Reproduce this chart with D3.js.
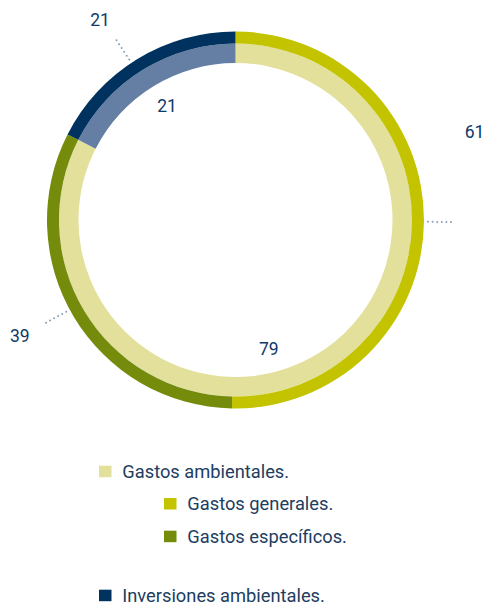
<!DOCTYPE html>
<html>
<head>
<meta charset="utf-8">
<script src="https://cdn.jsdelivr.net/npm/d3@7"></script>
<style>
  body { margin: 0; background: #fff; }
  svg { display: block; font-family: Roboto, "Liberation Sans", sans-serif; }
</style>
</head>
<body>
<div id="chart"></div>
<script>
// values printed on the chart
const innerNames = ['Gastos ambientales', 'Inversiones ambientales'];
const innerValues = [79, 21];
const outerNames = ['Gastos generales', 'Gastos específicos', 'Inversiones ambientales'];
const outerValues = [61, 39, 21];
// arc shares as drawn in the picture (percent of the circle)
const innerShares = [82.5, 17.5];
const outerShares = [50.3, 32.2, 17.5];
const legendLabels = ['Gastos ambientales.', 'Gastos generales.', 'Gastos específicos.', 'Inversiones ambientales.'];

const W = 486, H = 606;
const cx = 235.5, cy = 220;
const rOuter = 188.5, rMid = 176.5, rInner = 157;

const innerColors = ['#e2e09b', '#647fa3'];
const outerColors = ['#c4c300', '#758b0c', '#00325f'];
const labelColor = '#0f3a66';
const dotColor = '#86a0b8';

const svg = d3.select('#chart').append('svg')
  .attr('width', W)
  .attr('height', H);

const g = svg.append('g').attr('transform', `translate(${cx},${cy})`);

const pie = d3.pie().sort(null).value(d => d);

const innerArcs = pie(innerShares);
const outerArcs = pie(outerShares);

const innerArc = d3.arc().innerRadius(rInner).outerRadius(rMid);
const outerArc = d3.arc().innerRadius(rMid).outerRadius(rOuter);

g.selectAll('.inner')
  .data(innerArcs)
  .enter()
  .append('path')
  .attr('class', 'inner')
  .attr('d', innerArc)
  .attr('fill', (d, i) => innerColors[i]);

g.selectAll('.outer')
  .data(outerArcs)
  .enter()
  .append('path')
  .attr('class', 'outer')
  .attr('d', outerArc)
  .attr('fill', (d, i) => outerColors[i]);

// dotted leaders for the outer ring (small angle nudges, degrees)
const polar = (a, r) => [Math.sin(a) * r, -Math.cos(a) * r];
const leaderShift = [0, 2.5, -2];
const leaderAngle = (d, i) => (d.startAngle + d.endAngle) / 2 + leaderShift[i] * Math.PI / 180;
const r1 = rOuter + 4, r2 = rOuter + 29;

g.selectAll('.leader')
  .data(outerArcs)
  .enter()
  .append('line')
  .attr('class', 'leader')
  .attr('x1', (d, i) => polar(leaderAngle(d, i), r1)[0])
  .attr('y1', (d, i) => polar(leaderAngle(d, i), r1)[1])
  .attr('x2', (d, i) => polar(leaderAngle(d, i), r2)[0])
  .attr('y2', (d, i) => polar(leaderAngle(d, i), r2)[1])
  .attr('stroke', dotColor)
  .attr('stroke-width', 2)
  .attr('stroke-linecap', 'round')
  .attr('stroke-dasharray', '0 4.6');

// outer labels: offsets from the leader end
const outerLabelOffset = [[21.5, -90], [-24.5, 12.4], [-15.4, -19.1]];
g.selectAll('.outer-label')
  .data(outerArcs)
  .enter()
  .append('text')
  .attr('x', (d, i) => polar(leaderAngle(d, i), r2)[0] + outerLabelOffset[i][0])
  .attr('y', (d, i) => polar(leaderAngle(d, i), r2)[1] + outerLabelOffset[i][1])
  .attr('text-anchor', 'middle')
  .attr('dy', '0.36em')
  .attr('fill', labelColor)
  .style('font-size', '17.5px')
  .text((d, i) => outerValues[i]);

// inner labels
const innerLabelAngle = [165.5, 329];
g.selectAll('.inner-label')
  .data(innerArcs)
  .enter()
  .append('text')
  .attr('x', (d, i) => polar(innerLabelAngle[i] * Math.PI / 180, 133)[0])
  .attr('y', (d, i) => polar(innerLabelAngle[i] * Math.PI / 180, 133)[1])
  .attr('text-anchor', 'middle')
  .attr('dy', '0.36em')
  .attr('fill', labelColor)
  .style('font-size', '17.5px')
  .text((d, i) => innerValues[i]);

// legend
const legendColors = [innerColors[0], outerColors[0], outerColors[1], outerColors[2]];
const legendX = [99, 164, 164, 99];
const legendBase = [477.7, 510, 542.7, 601.7];

const legend = svg.selectAll('.legend')
  .data(legendLabels)
  .enter()
  .append('g')
  .attr('class', 'legend')
  .attr('transform', (d, i) => `translate(${legendX[i]},${legendBase[i]})`);

legend.append('rect')
  .attr('x', 0)
  .attr('y', -12)
  .attr('width', 12.5)
  .attr('height', 11.5)
  .attr('fill', (d, i) => legendColors[i]);

legend.append('text')
  .attr('x', 23.3)
  .attr('y', 0)
  .attr('fill', '#213d5f')
  .style('font-size', '18.3px')
  .text(d => d);
</script>
</body>
</html>
